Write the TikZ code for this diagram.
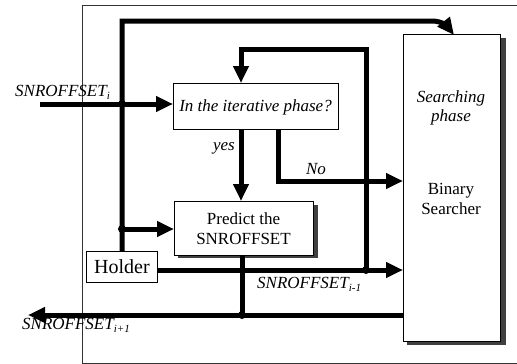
\documentclass[tikz,border=0pt]{standalone}
\usepackage{fontspec}
\setmainfont{Liberation Serif}
\usetikzlibrary{arrows.meta}
\newcommand\mysub[1]{\raisebox{-0.45ex}{\fontsize{11}{11}\selectfont #1}}
\tikzset{
  box/.style={draw, line width=0.8pt, fill=white, inner sep=0pt},
  shadowbox/.style={fill=black!75},
  flow/.style={line width=5pt},
  arr/.style={flow, -{Triangle[length=17pt,width=15pt]}},
  dot/.style={circle, fill=black, inner sep=0pt, minimum size=8pt},
  lbl/.style={font=\fontsize{17}{19}\selectfont\itshape, inner sep=0pt},
  rlbl/.style={font=\fontsize{17}{20}\selectfont, inner sep=0pt, align=center},
}
\begin{document}
\begin{tikzpicture}[x=1pt,y=-1pt]
\useasboundingbox (0,0) rectangle (517,364);
% outer frame
\draw[line width=0.8pt, black!80] (82,5) rectangle (530,363);

% shadows
\fill[shadowbox] (407,38) rectangle (506,345);
\fill[shadowbox] (178,205) rectangle (318,258);

% boxes
\node[box, minimum width=97pt, minimum height=307pt, anchor=north west] (search) at (403,34) {};
\node[lbl, align=center] (stext) at (451,108) {Searching\\phase};
\node[rlbl] (btext) at (451,199) {Binary\\Searcher};

\node[box, minimum width=165pt, minimum height=46pt, anchor=north west] (iter) at (173,83) {};
\node[lbl] (itext) at (255.5,107) {In the iterative phase?};

\node[box, minimum width=139pt, minimum height=54pt, anchor=north west] (pred) at (174,201) {};
\node[rlbl] (ptext) at (243.5,229) {Predict the\\SNROFFSET};

\node[box, minimum width=71pt, minimum height=31pt, anchor=north west, font=\fontsize{20}{22}\selectfont] (hold) at (86,251) {Holder};

% coordinates
\coordinate (in0) at (40,104);
\coordinate (j1) at (122,104);
\coordinate (j2) at (122,229);
\coordinate (j3) at (366,270);
\coordinate (j4) at (242,315);
\coordinate (out0) at (28,315);
\coordinate (tip) at (454,35);

% top bus from holder to searcher
\draw[arr] (hold.north -| j1) -- (122,21) -- (432,21) to[out=0,in=128] (tip);

% input
\draw[arr] (in0) -- (iter.west |- in0);
\node[dot] (d1) at (j1) {};

% holder -> predict
\draw[arr] (j2) -- (pred.west |- j2);
\node[dot] (d2) at (j2) {};

% holder -> searcher
\draw[arr] (hold.east |- j3) -- (search.west |- j3);
\node[dot] (d3) at (j3) {};

% feedback loop
\draw[arr] (j3) -- (366,49) -- (241,49) -- (iter.north -| 241,0);

% yes
\draw[arr] (iter.south -| 241,0) -- (pred.north -| 241,0);
\node[lbl] (yes) at (224,148) {yes};

% No
\draw[arr] (iter.south -| 278,0) -- (278,181) -- (search.west |- 0,181);
\node[lbl] (no) at (316,169) {No};

% predict output
\draw[flow] (pred.south -| j4) -- (j4);
\draw[arr] (search.west |- j4) -- (out0);
\node[dot] (d4) at (j4) {};

% labels
\node[lbl, anchor=base west] (l1) at (15,96) {SNROFFSET\mysub{i}};
\node[lbl, anchor=base west] (l2) at (257,288) {SNROFFSET\mysub{i-1}};
\node[lbl, anchor=base west] (l3) at (22,329) {SNROFFSET\mysub{i+1}};
\end{tikzpicture}
\end{document}
